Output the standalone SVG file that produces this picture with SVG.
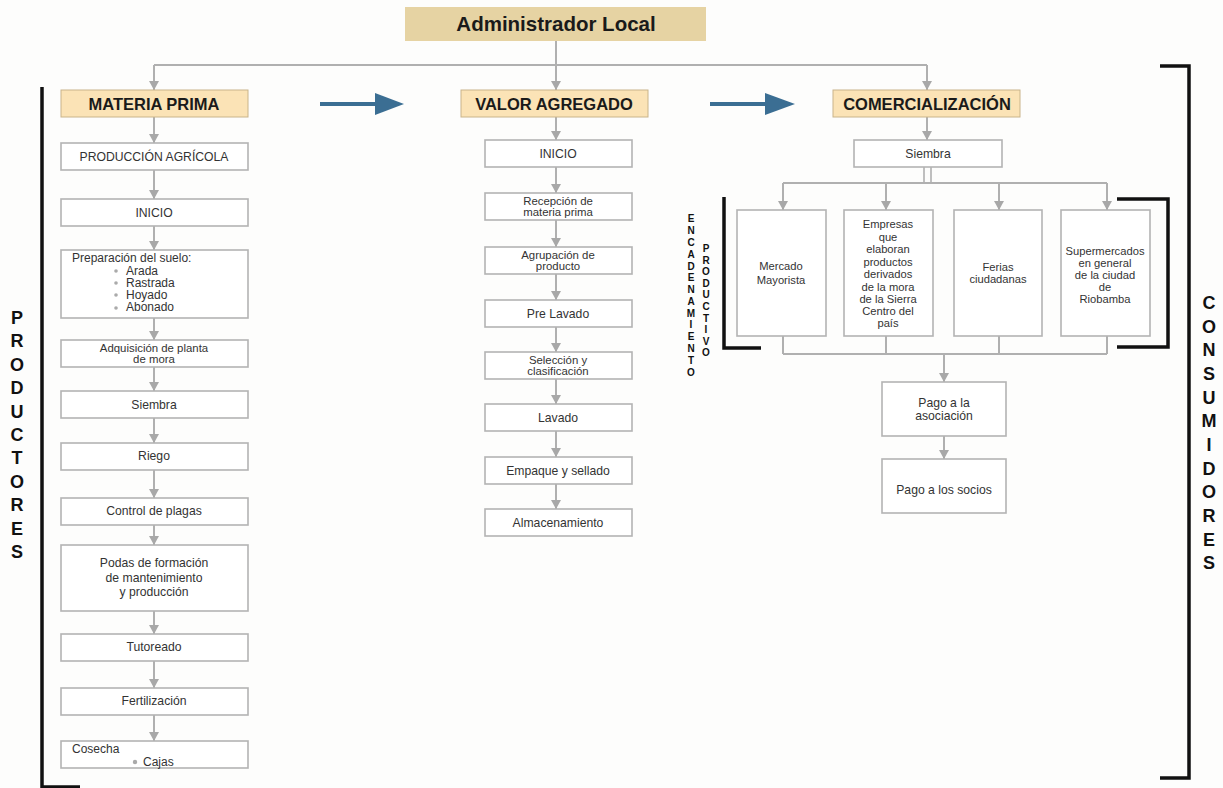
<svg xmlns="http://www.w3.org/2000/svg" width="1223" height="788" viewBox="0 0 1223 788">
<style>
.bx{fill:#fff;stroke:#b3b3b3;stroke-width:1.6}
.hd{fill:#fbe3b6;stroke:#c9b48a;stroke-width:1}
.t{font-family:"Liberation Sans",Arial,sans-serif;font-size:12.2px;fill:#333;text-anchor:middle}
.t2{font-family:"Liberation Sans",Arial,sans-serif;font-size:11.4px;fill:#333;text-anchor:middle}
.ts{font-family:"Liberation Sans",Arial,sans-serif;font-size:11.2px;fill:#333;text-anchor:middle}
.tl{font-family:"Liberation Sans",Arial,sans-serif;font-size:12px;fill:#333}
.h{font-family:"Liberation Sans",Arial,sans-serif;font-size:16.5px;font-weight:bold;fill:#1a1a1a;text-anchor:middle}
.v{font-family:"Liberation Sans",Arial,sans-serif;font-size:18px;font-weight:bold;fill:#111;text-anchor:middle}
.vs{font-family:"Liberation Sans",Arial,sans-serif;font-size:10px;font-weight:bold;fill:#111;text-anchor:middle}
.c{fill:none;stroke:#b0b0b0;stroke-width:2}
.ca{fill:none;stroke:#b0b0b0;stroke-width:2;marker-end:url(#ah)}
.br{fill:none;stroke:#111;stroke-width:3.5}
.dot{fill:#aaa}
</style>
<defs>
<marker id="ah" markerUnits="userSpaceOnUse" markerWidth="9" markerHeight="10" viewBox="0 0 9 10" refX="9" refY="5" orient="auto">
<path d="M0,0 L9,5 L0,10 Z" fill="#a8a8a8"/>
</marker>
</defs>
<rect width="1223" height="788" fill="#fdfdfc"/>

<g id="connectors">
<path class="ca" d="M556,41 V90"/>
<path class="c" d="M154,65 H927"/>
<path class="ca" d="M154,65 V90"/>
<path class="ca" d="M927,65 V90"/>
<path class="ca" d="M154,117 V143"/>
<path class="ca" d="M154,170 V199"/>
<path class="ca" d="M154,226 V250"/>
<path class="ca" d="M154,318 V340"/>
<path class="ca" d="M154,367 V391"/>
<path class="ca" d="M154,418 V443"/>
<path class="ca" d="M154,470 V498"/>
<path class="ca" d="M154,525 V545"/>
<path class="ca" d="M154,611 V634"/>
<path class="ca" d="M154,661 V688"/>
<path class="ca" d="M154,715 V741"/>
<path class="ca" d="M556,117 V140"/>
<path class="ca" d="M556,167 V193"/>
<path class="ca" d="M556,220 V247"/>
<path class="ca" d="M556,274 V300"/>
<path class="ca" d="M556,327 V352"/>
<path class="ca" d="M556,379 V404"/>
<path class="ca" d="M556,431 V457"/>
<path class="ca" d="M556,484 V509"/>
<path class="ca" d="M927,117 V140"/>
<path class="c" d="M924,167 V183 M931,167 V183" style="stroke-width:1.6"/>
<path class="c" d="M783,183 H1107"/>
<path class="ca" d="M783,183 V210"/>
<path class="ca" d="M886,183 V210"/>
<path class="ca" d="M999,183 V210"/>
<path class="ca" d="M1107,183 V210"/>
<path class="c" d="M783,336 V354 M886,336 V354 M999,336 V354 M1107,336 V354 M783,354 H1107"/>
<path class="ca" d="M944,354 V382"/>
<path class="ca" d="M944,436 V459"/>
<path d="M320,104 H378" stroke="#3b6e93" stroke-width="4" fill="none"/>
<path d="M375,93 L404,104 L375,115 Z" fill="#3b6e93"/>
<path d="M710,104 H768" stroke="#3b6e93" stroke-width="4" fill="none"/>
<path d="M765,93 L795,104 L765,115 Z" fill="#3b6e93"/>
</g>

<g id="brackets">
<path class="br" d="M42,87 V788 M42,787 H80" />
<path class="br" d="M1160,66 H1189 V778 H1160"/>
<path class="br" d="M724,197 V348 H761"/>
<path class="br" d="M1117,199 H1168 V347 H1117"/>
</g>

<g id="admin">
<rect x="405" y="7" width="301" height="34" fill="#e6d3a3"/>
<text x="556" y="31" class="h" style="font-size:20.5px">Administrador Local</text>
</g>

<g id="materia-prima"><rect class="hd" x="61" y="90" width="187" height="27"/><text x="154" y="109.5" class="h">MATERIA PRIMA</text></g>
<g id="valor-agregado"><rect class="hd" x="461" y="90" width="187" height="27"/><text x="554" y="109.5" class="h">VALOR AGREGADO</text></g>
<g id="comercializacion"><rect class="hd" x="833" y="90" width="187" height="27"/><text x="927" y="109.5" class="h">COMERCIALIZACIÓN</text></g>

<g id="produccion"><rect class="bx" x="61" y="143" width="187" height="27"/><text x="154" y="161" class="t">PRODUCCIÓN AGRÍCOLA</text></g>
<g id="inicio1"><rect class="bx" x="61" y="199" width="187" height="27"/><text x="154" y="217" class="t">INICIO</text></g>
<g id="preparacion"><rect class="bx" x="61" y="250" width="187" height="68"/>
<text x="72" y="262" class="tl">Preparación del suelo:</text>
<circle class="dot" cx="116" cy="271" r="1.8"/><text x="126" y="275" class="tl">Arada</text>
<circle class="dot" cx="116" cy="283" r="1.8"/><text x="126" y="287" class="tl">Rastrada</text>
<circle class="dot" cx="116" cy="295" r="1.8"/><text x="126" y="299" class="tl">Hoyado</text>
<circle class="dot" cx="116" cy="308" r="1.8"/><text x="126" y="311" class="tl">Abonado</text>
</g>
<g id="adquisicion"><rect class="bx" x="61" y="340" width="187" height="27"/><text x="154" y="351.5" class="t2">Adquisición de planta</text><text x="154" y="362.5" class="t2">de mora</text></g>
<g id="siembra1"><rect class="bx" x="61" y="391" width="187" height="27"/><text x="154" y="409" class="t">Siembra</text></g>
<g id="riego"><rect class="bx" x="61" y="443" width="187" height="27"/><text x="154" y="460" class="t">Riego</text></g>
<g id="control"><rect class="bx" x="61" y="498" width="187" height="27"/><text x="154" y="515" class="t">Control de plagas</text></g>
<g id="podas"><rect class="bx" x="61" y="545" width="187" height="66"/><text x="154" y="567" class="t">Podas de formación</text><text x="154" y="582" class="t">de mantenimiento</text><text x="154" y="596" class="t">y producción</text></g>
<g id="tutoreado"><rect class="bx" x="61" y="634" width="187" height="27"/><text x="154" y="651" class="t">Tutoreado</text></g>
<g id="fertilizacion"><rect class="bx" x="61" y="688" width="187" height="27"/><text x="154" y="705" class="t">Fertilización</text></g>
<g id="cosecha"><rect class="bx" x="61" y="741" width="187" height="27"/><text x="72" y="753" class="tl">Cosecha</text><circle class="dot" cx="135" cy="762" r="2.2"/><text x="143" y="766" class="tl">Cajas</text></g>

<g id="inicio2"><rect class="bx" x="485" y="140" width="147" height="27"/><text x="558" y="158" class="t">INICIO</text></g>
<g id="recepcion"><rect class="bx" x="485" y="193" width="147" height="27"/><text x="558" y="204.5" class="t2">Recepción de</text><text x="558" y="215.5" class="t2">materia prima</text></g>
<g id="agrupacion"><rect class="bx" x="485" y="247" width="147" height="27"/><text x="558" y="258.5" class="t2">Agrupación de</text><text x="558" y="269.5" class="t2">producto</text></g>
<g id="prelavado"><rect class="bx" x="485" y="300" width="147" height="27"/><text x="558" y="318" class="t">Pre Lavado</text></g>
<g id="seleccion"><rect class="bx" x="485" y="352" width="147" height="27"/><text x="558" y="363.5" class="t2">Selección y</text><text x="558" y="374.5" class="t2">clasificación</text></g>
<g id="lavado"><rect class="bx" x="485" y="404" width="147" height="27"/><text x="558" y="422" class="t">Lavado</text></g>
<g id="empaque"><rect class="bx" x="485" y="457" width="147" height="27"/><text x="558" y="475" class="t">Empaque y sellado</text></g>
<g id="almacenamiento"><rect class="bx" x="485" y="509" width="147" height="27"/><text x="558" y="527" class="t">Almacenamiento</text></g>

<g id="siembra2"><rect class="bx" x="854" y="140" width="148" height="27"/><text x="928" y="158" class="t">Siembra</text></g>
<g id="mercado"><rect class="bx" x="737" y="210" width="89" height="126"/><text x="781" y="270" class="ts">Mercado</text><text x="781" y="284" class="ts">Mayorista</text></g>
<g id="empresas"><rect class="bx" x="844" y="210" width="89" height="126"/>
<text x="888" y="228" class="ts">Empresas</text><text x="888" y="241" class="ts">que</text><text x="888" y="253" class="ts">elaboran</text><text x="888" y="266" class="ts">productos</text><text x="888" y="278" class="ts">derivados</text><text x="888" y="291" class="ts">de la mora</text><text x="888" y="303" class="ts">de la Sierra</text><text x="888" y="315" class="ts">Centro del</text><text x="888" y="327" class="ts">país</text></g>
<g id="ferias"><rect class="bx" x="954" y="210" width="88" height="126"/><text x="998" y="271" class="ts">Ferias</text><text x="998" y="283" class="ts">ciudadanas</text></g>
<g id="supermercados"><rect class="bx" x="1061" y="210" width="89" height="126"/>
<text x="1105" y="255" class="ts">Supermercados</text><text x="1105" y="267" class="ts">en general</text><text x="1105" y="279" class="ts">de la ciudad</text><text x="1105" y="291" class="ts">de</text><text x="1105" y="303" class="ts">Riobamba</text></g>
<g id="pago-asociacion"><rect class="bx" x="882" y="382" width="124" height="54"/><text x="944" y="407" class="t">Pago a la</text><text x="944" y="420" class="t">asociación</text></g>
<g id="pago-socios"><rect class="bx" x="882" y="459" width="124" height="54"/><text x="944" y="494" class="t">Pago a los socios</text></g>

<g id="productores">
<text x="17" y="324" class="v">P</text><text x="17" y="347" class="v">R</text><text x="17" y="371" class="v">O</text><text x="17" y="394" class="v">D</text><text x="17" y="418" class="v">U</text><text x="17" y="441" class="v">C</text><text x="17" y="464" class="v">T</text><text x="17" y="488" class="v">O</text><text x="17" y="511" class="v">R</text><text x="17" y="535" class="v">E</text><text x="17" y="558" class="v">S</text>
</g>
<g id="consumidores">
<text x="1209" y="309" class="v">C</text><text x="1209" y="333" class="v">O</text><text x="1209" y="356" class="v">N</text><text x="1209" y="380" class="v">S</text><text x="1209" y="404" class="v">U</text><text x="1209" y="427" class="v">M</text><text x="1209" y="451" class="v">I</text><text x="1209" y="475" class="v">D</text><text x="1209" y="498" class="v">O</text><text x="1209" y="522" class="v">R</text><text x="1209" y="546" class="v">E</text><text x="1209" y="569" class="v">S</text>
</g>
<g id="encadenamiento">
<text x="691" y="222" class="vs">E</text><text x="691" y="234" class="vs">N</text><text x="691" y="246" class="vs">C</text><text x="691" y="258" class="vs">A</text><text x="691" y="270" class="vs">D</text><text x="691" y="281" class="vs">E</text><text x="691" y="293" class="vs">N</text><text x="691" y="305" class="vs">A</text><text x="691" y="317" class="vs">M</text><text x="691" y="328" class="vs">I</text><text x="691" y="340" class="vs">E</text><text x="691" y="352" class="vs">N</text><text x="691" y="364" class="vs">T</text><text x="691" y="376" class="vs">O</text>
</g>
<g id="productivo">
<text x="706" y="252" class="vs">P</text><text x="706" y="264" class="vs">R</text><text x="706" y="275" class="vs">O</text><text x="706" y="287" class="vs">D</text><text x="706" y="298" class="vs">U</text><text x="706" y="310" class="vs">C</text><text x="706" y="322" class="vs">T</text><text x="706" y="333" class="vs">I</text><text x="706" y="345" class="vs">V</text><text x="706" y="356" class="vs">O</text>
</g>
</svg>
